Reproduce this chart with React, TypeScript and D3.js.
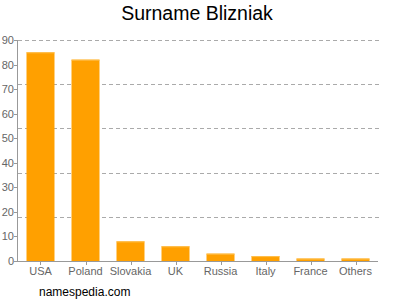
import React from "react";
import * as d3 from "d3";

const categories = ["USA", "Poland", "Slovakia", "UK", "Russia", "Italy", "France", "Others"];
const values = [85, 82, 8, 6, 3, 2, 1, 1];
const yTicks = [0, 10, 20, 30, 40, 50, 60, 70, 80, 90];
const gridTicks = [18, 36, 54, 72, 90];

export default function App() {
  const W = 400, H = 300;
  const left = 18, right = 378, top = 40, bottom = 261;
  const x = d3.scaleBand<string>().domain(categories).range([left, right]).paddingInner(0.378).paddingOuter(0.189);
  const y = d3.scaleLinear().domain([0, 90]).range([bottom, top]);
  const font = "Liberation Sans, Arial, sans-serif";
  return (
    <svg width={W} height={H} style={{ position: "absolute", left: 0, top: 0 }} fontFamily={font}>
      <rect width={W} height={H} fill="#fff" />
      <text x={197} y={20} textAnchor="middle" fontSize={19.5} fill="#000">Surname Blizniak</text>
      {gridTicks.map((t) => (
        <line key={t} x1={left} x2={382} y1={Math.round(y(t)) + 0.5} y2={Math.round(y(t)) + 0.5} stroke="#aaa" strokeDasharray="4,3" />
      ))}
      {categories.map((c, i) => {
        const bx = x(c)!;
        const bw = x.bandwidth();
        const by = y(values[i]);
        return (
          <g key={c}>
            <rect x={bx} y={by} width={bw} height={bottom - by} fill="#ffa000" />
            <rect x={bx} y={by} width={bw} height={1} fill="#ffc050" />
          </g>
        );
      })}
      <line x1={left - 0.5} x2={left - 0.5} y1={top} y2={bottom} stroke="#999" />
      <line x1={left} x2={right} y1={bottom + 0.5} y2={bottom + 0.5} stroke="#999" />
      {yTicks.map((t) => (
        <g key={t}>
          <line x1={left - 4} x2={left} y1={Math.round(y(t)) + 0.5} y2={Math.round(y(t)) + 0.5} stroke="#999" />
          <text x={left - 4} y={y(t) + 4} textAnchor="end" fontSize={11} fill="#666">{t}</text>
        </g>
      ))}
      {categories.map((c) => {
        const cx = x(c)! + x.bandwidth() / 2;
        return (
          <g key={c}>
            <line x1={Math.round(cx) + 0.5} x2={Math.round(cx) + 0.5} y1={bottom} y2={bottom + 4} stroke="#999" />
            <text x={cx} y={bottom + 14} textAnchor="middle" fontSize={11} fill="#666">{c}</text>
          </g>
        );
      })}
      <text x={39} y={296} fontSize={12} fill="#000">namespedia.com</text>
    </svg>
  );
}
